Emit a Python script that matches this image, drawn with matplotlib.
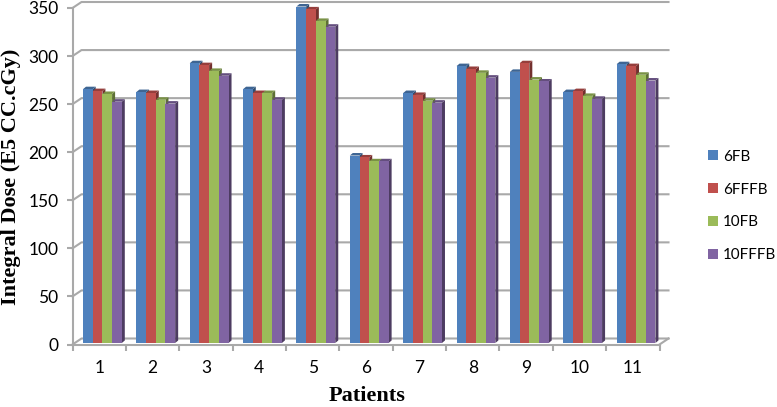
import numpy as np
import matplotlib
matplotlib.use('Agg')
import matplotlib.pyplot as plt
from matplotlib.patches import Polygon, Patch
from matplotlib.colors import to_rgb

patients = ['1', '2', '3', '4', '5', '6', '7', '8', '9', '10', '11']
fb6 = [264, 261, 291, 264, 350, 195, 260, 288, 282, 261, 290]
fffb6 = [262, 260, 289, 260, 347, 193, 258, 285, 291, 262, 288]
fb10 = [259, 253, 283, 260, 335, 189, 252, 281, 274, 257, 279]
fffb10 = [251, 249, 278, 253, 329, 189, 250, 276, 272, 254, 273]
series_names = ['6FB', '6FFFB', '10FB', '10FFFB']
series_values = [fb6, fffb6, fb10, fffb10]
colors = ['#4F81BD', '#C0504D', '#9BBB59', '#8064A2']
yticks = [0, 50, 100, 150, 200, 250, 300, 350]

W, H = 777, 407
left, right, top, bottom = 72.5, 659.5, 8, 344.5
GRAY = '#A9A9A9'

fig = plt.figure(figsize=(W / 100, H / 100), dpi=100)
ax = fig.add_axes([left / W, 1 - bottom / H, (right - left) / W, (bottom - top) / H])
ax.set_xlim(0, 11)
ax.set_ylim(0, 350)

# pixels -> data units
px = 11 / (right - left)
py = 350 / (bottom - top)

# back wall offset
wall_dx = 9 * px
wall_dy = 6 * py
for t in yticks:
    ax.plot([0, wall_dx, 11 + wall_dx], [t, t + wall_dy, t + wall_dy], color=GRAY,
            lw=1.5, clip_on=False, zorder=1)
ax.plot([11, 11 + wall_dx], [0, wall_dy], color=GRAY, lw=1.5, clip_on=False, zorder=1)

# 3d bars
bar_w = 9.7 * px
group_shift = 10.5 * px
dep_x = 3 * px
dep_y = 2.5 * py
base = 1.5 * py


def darker(c, f):
    return tuple(v * f for v in to_rgb(c))


z = 3
for i in range(len(patients)):
    for s in range(4):
        x0 = i + group_shift + s * bar_w
        v = series_values[s][i] + base
        c = colors[s]
        # side
        ax.add_patch(Polygon([(x0 + bar_w, base), (x0 + bar_w + dep_x, base + dep_y),
                              (x0 + bar_w + dep_x, v + dep_y), (x0 + bar_w, v)],
                             fc=darker(c, 0.6), ec='none', clip_on=False, zorder=z))
        # top
        ax.add_patch(Polygon([(x0, v), (x0 + dep_x, v + dep_y),
                              (x0 + bar_w + dep_x, v + dep_y), (x0 + bar_w, v)],
                             fc=darker(c, 0.78), ec='none', clip_on=False, zorder=z))
        ax.bar(x0, series_values[s][i], bar_w, bottom=base, align='edge', color=c,
               clip_on=False, zorder=z + 0.5)
        z += 1

for sp in ['top', 'right']:
    ax.spines[sp].set_visible(False)
for sp in ['left', 'bottom']:
    ax.spines[sp].set_color(GRAY)
    ax.spines[sp].set_linewidth(1.5)
    ax.spines[sp].set_zorder(2)

plt.rcParams['font.family'] = 'Lato'
ax.set_yticks(yticks)
ax.set_yticklabels([str(t) for t in yticks], family='Lato', fontsize=12.5)
ax.set_xticks(np.arange(0, 12))
ax.set_xticklabels([])
ax.set_xticks(np.arange(len(patients)) + 0.5, minor=True)
ax.set_xticklabels(patients, minor=True, family='Lato', fontsize=12.5)
ax.tick_params(axis='both', which='major', color=GRAY, width=1.5, length=4)
ax.tick_params(axis='x', which='minor', length=0, pad=11)
ax.tick_params(axis='y', pad=6)

fig.text(367 / W, 1 - 396 / H, 'Patients', family='Liberation Serif', weight='bold',
         fontsize=16, ha='center', va='center')
fig.text(11 / W, 1 - 177 / H, 'Integral Dose (E5 CC.cGy)', family='Liberation Serif',
         weight='bold', fontsize=16, rotation=90, ha='center', va='center')

handles = [Patch(fc=c, label=n) for c, n in zip(colors, series_names)]
fig.legend(handles=handles, loc='center left', bbox_to_anchor=(708 / W, 1 - 206 / H),
           frameon=False, prop={'family': 'Lato', 'size': 10.9}, handlelength=0.66,
           handleheight=0.66, handletextpad=0.32, labelspacing=1.25, borderaxespad=0,
           borderpad=0)

fig.savefig('out.png', dpi=100)
